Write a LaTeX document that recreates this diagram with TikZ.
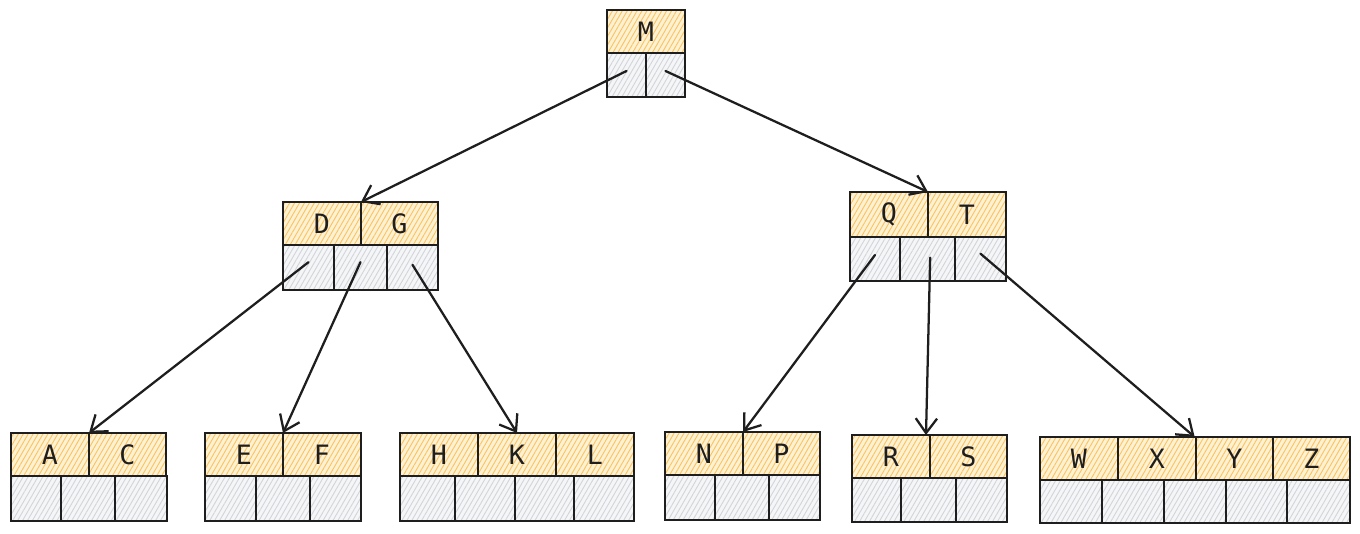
\documentclass[tikz,border=0pt]{standalone}
\usepackage{fontspec}
\setmonofont{DejaVu Sans Mono}
\usetikzlibrary{arrows.meta,patterns.meta}
\definecolor{keyfill}{RGB}{255,241,212}
\definecolor{keyhatch}{RGB}{250,196,95}
\definecolor{ptrfill}{RGB}{245,246,247}
\definecolor{ptrhatch}{RGB}{210,213,218}
\definecolor{ink}{RGB}{30,30,30}
\tikzset{
  cellbase/.style={draw=ink, line width=1.1pt, inner sep=0pt, outer sep=0pt,
    font=\ttfamily\fontsize{20}{24}\selectfont, text=ink},
  keycell/.style={cellbase, preaction={fill=keyfill},
    pattern={Lines[angle=60,distance=3.2pt,line width=0.7pt]}, pattern color=keyhatch},
  ptrcell/.style={cellbase, preaction={fill=ptrfill},
    pattern={Lines[angle=60,distance=3.2pt,line width=0.7pt]}, pattern color=ptrhatch},
  link/.style={draw=ink, line width=1.7pt, line cap=round,
    -{Straight Barb[length=11pt,width=16pt,line width=1.7pt]}}
}
\newcommand\cellbox[7]{%
  \node[#6, minimum width={(#4-#2)*0.75pt}, minimum height={(#5-#3)*0.75pt}]
    (#1) at ({(#2+#4)/2},{(#3+#5)/2}) {#7};}
\begin{document}
\begin{tikzpicture}[x=0.75pt,y=-0.75pt]
\useasboundingbox[fill=white] (0,0) rectangle (1360,534);
% root M
\cellbox{M}{607}{10}{685}{53}{keycell}{M}
\cellbox{m1}{607}{53}{646}{97}{ptrcell}{}
\cellbox{m2}{646}{53}{685}{97}{ptrcell}{}
% D G
\cellbox{D}{283}{202}{361}{245}{keycell}{D}
\cellbox{G}{361}{202}{438}{245}{keycell}{G}
\cellbox{dg1}{283}{245}{334}{290}{ptrcell}{}
\cellbox{dg2}{334}{245}{387}{290}{ptrcell}{}
\cellbox{dg3}{387}{245}{438}{290}{ptrcell}{}
% Q T
\cellbox{Q}{850}{192}{928}{237}{keycell}{Q}
\cellbox{T}{928}{192}{1006}{237}{keycell}{T}
\cellbox{qt1}{850}{237}{900}{281}{ptrcell}{}
\cellbox{qt2}{900}{237}{955}{281}{ptrcell}{}
\cellbox{qt3}{955}{237}{1006}{281}{ptrcell}{}
% A C
\cellbox{A}{11}{433}{89}{476}{keycell}{A}
\cellbox{C}{89}{433}{166}{476}{keycell}{C}
\cellbox{ac1}{11}{476}{61}{521}{ptrcell}{}
\cellbox{ac2}{61}{476}{115}{521}{ptrcell}{}
\cellbox{ac3}{115}{476}{167}{521}{ptrcell}{}
% E F
\cellbox{E}{205}{433}{283}{476}{keycell}{E}
\cellbox{F}{283}{433}{361}{476}{keycell}{F}
\cellbox{ef1}{205}{476}{256}{521}{ptrcell}{}
\cellbox{ef2}{256}{476}{310}{521}{ptrcell}{}
\cellbox{ef3}{310}{476}{361}{521}{ptrcell}{}
% H K L
\cellbox{H}{400}{433}{478}{476}{keycell}{H}
\cellbox{K}{478}{433}{556}{476}{keycell}{K}
\cellbox{L}{556}{433}{634}{476}{keycell}{L}
\cellbox{hkl1}{400}{476}{455}{521}{ptrcell}{}
\cellbox{hkl2}{455}{476}{515}{521}{ptrcell}{}
\cellbox{hkl3}{515}{476}{574}{521}{ptrcell}{}
\cellbox{hkl4}{574}{476}{634}{521}{ptrcell}{}
% N P
\cellbox{N}{665}{432}{743}{475}{keycell}{N}
\cellbox{P}{743}{432}{820}{475}{keycell}{P}
\cellbox{np1}{665}{475}{715}{520}{ptrcell}{}
\cellbox{np2}{715}{475}{769}{520}{ptrcell}{}
\cellbox{np3}{769}{475}{820}{520}{ptrcell}{}
% R S
\cellbox{R}{852}{435}{930}{478}{keycell}{R}
\cellbox{S}{930}{435}{1007}{478}{keycell}{S}
\cellbox{rs1}{852}{478}{901}{522}{ptrcell}{}
\cellbox{rs2}{901}{478}{956}{522}{ptrcell}{}
\cellbox{rs3}{956}{478}{1007}{522}{ptrcell}{}
% W X Y Z
\cellbox{W}{1040}{437}{1118}{480}{keycell}{W}
\cellbox{X}{1118}{437}{1196}{480}{keycell}{X}
\cellbox{Y}{1196}{437}{1273}{480}{keycell}{Y}
\cellbox{Z}{1273}{437}{1350}{480}{keycell}{Z}
\cellbox{wz1}{1040}{480}{1102}{523}{ptrcell}{}
\cellbox{wz2}{1102}{480}{1164}{523}{ptrcell}{}
\cellbox{wz3}{1164}{480}{1226}{523}{ptrcell}{}
\cellbox{wz4}{1226}{480}{1287}{523}{ptrcell}{}
\cellbox{wz5}{1287}{480}{1350}{523}{ptrcell}{}
% connectors
\draw[link] ([yshift=3pt]m1.center) -- (D.north east);
\draw[link] ([yshift=3pt]m2.center) -- (Q.north east);
\draw[link] ([yshift=4pt]dg1.center) -- (A.north east);
\draw[link] ([yshift=4pt]dg2.center) -- (E.north east);
\draw[link] ([yshift=2pt]dg3.center) -- (K.north);
\draw[link] ([yshift=3pt]qt1.center) -- (N.north east);
\draw[link] ([xshift=2pt,yshift=1pt]qt2.center) -- ([xshift=-3pt]R.north east);
\draw[link] ([yshift=4pt]qt3.center) -- ([xshift=-1pt]X.north east);
\end{tikzpicture}
\end{document}
